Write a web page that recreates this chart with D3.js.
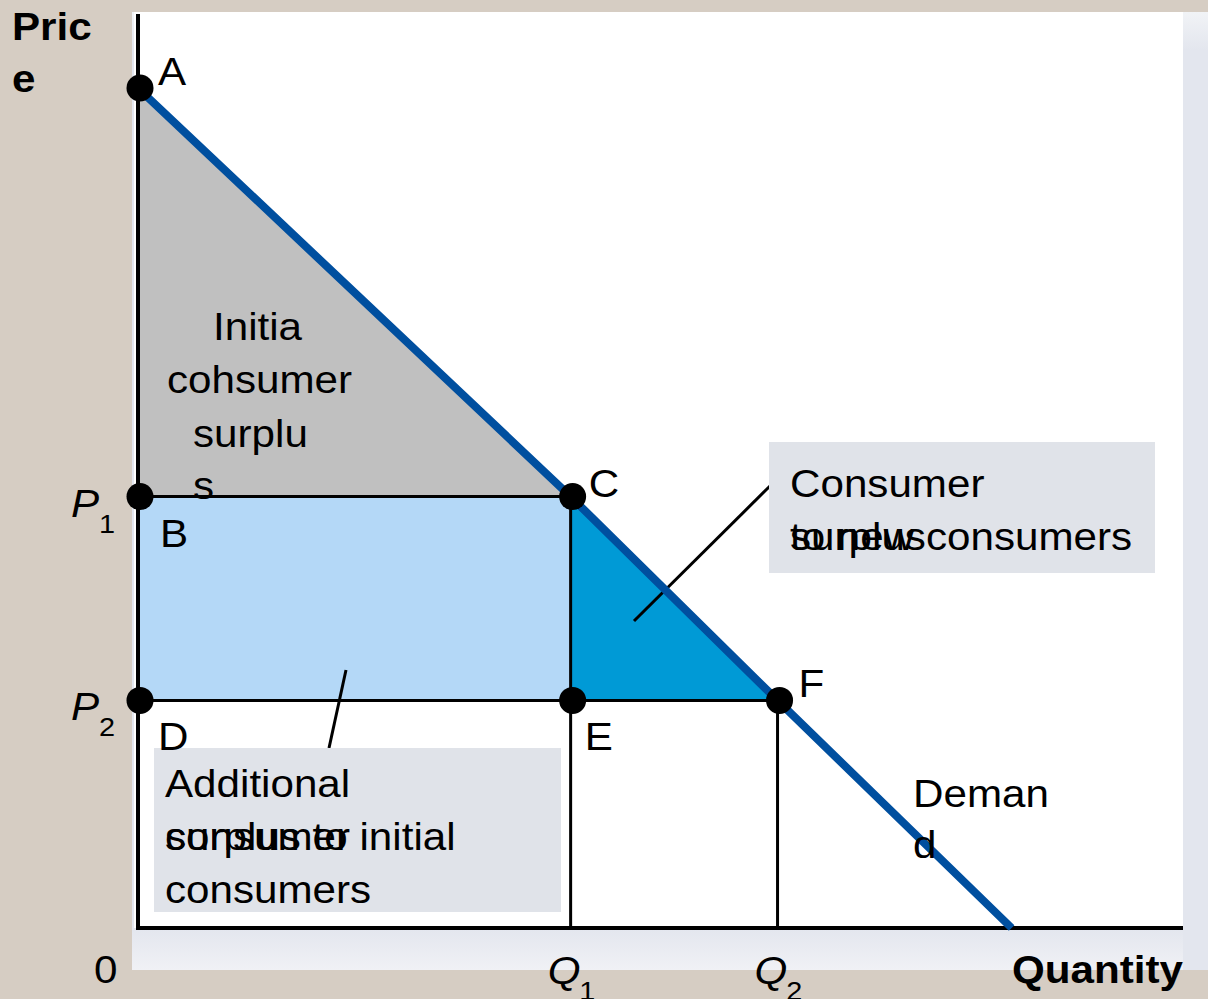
<!DOCTYPE html>
<html>
<head>
<meta charset="utf-8">
<script src="https://cdn.jsdelivr.net/npm/d3@7"></script>
<style>
  body { margin: 0; background: #d6cdc3; }
  svg { display: block; font-family: "Liberation Sans", Arial, sans-serif; }
</style>
</head>
<body>
<div id="chart"></div>
<script>
// values (quantity and price units, 0..10)
var demandQ = [0, 4.14, 6.12, 8.36];
var demandP = [9.19, 4.72, 2.49, 0];
var pointLabels = ["A", "B", "C", "D", "E", "F"];
var pointQ = [0, 0, 4.14, 0, 4.14, 6.12];
var pointP = [9.19, 4.72, 4.72, 2.49, 2.49, 2.49];
var priceTickNames = ["1", "2"];
var priceTickValues = [4.72, 2.49];
var qtyTickNames = ["1", "2"];
var qtyTickValues = [4.14, 6.12];

var width = 1208, height = 999;
var stretch = 1.11; // the slide text is a bit wider than plain Arial

var svg = d3.select("#chart")
    .append("svg")
    .attr("width", width)
    .attr("height", height);

var x = d3.scaleLinear().domain([0, 10]).range([138, 1183]);
var y = d3.scaleLinear().domain([0, 10]).range([928, 14]);

// text placed at (tx, ty) and stretched sideways
function place(sel, tx, ty) {
    return sel.attr("transform", "translate(" + tx + "," + ty + ") scale(" + stretch + ",1)");
}

// background panels
var defs = svg.append("defs");
var g1 = defs.append("linearGradient").attr("id", "bottomBand")
    .attr("x1", 0).attr("y1", 0).attr("x2", 0).attr("y2", 1);
g1.append("stop").attr("offset", "0%").attr("stop-color", "#e3e6ee");
g1.append("stop").attr("offset", "100%").attr("stop-color", "#f0f1f5");
var g2 = defs.append("linearGradient").attr("id", "sideBand")
    .attr("x1", 0).attr("y1", 0).attr("x2", 0).attr("y2", 1);
g2.append("stop").attr("offset", "0%").attr("stop-color", "#f1f3f6");
g2.append("stop").attr("offset", "4%").attr("stop-color", "#e3e6ee");
g2.append("stop").attr("offset", "100%").attr("stop-color", "#e3e6ee");

svg.append("rect").attr("x", 0).attr("y", 0).attr("width", width).attr("height", height)
    .style("fill", "#d6cdc3");
svg.append("rect").attr("x", 132).attr("y", 12).attr("width", width - 132).attr("height", 958)
    .style("fill", "url(#sideBand)");
svg.append("rect").attr("x", 132).attr("y", 928).attr("width", 1051).attr("height", 42)
    .style("fill", "url(#bottomBand)");
svg.append("rect").attr("x", 134).attr("y", 12).attr("width", 1049).attr("height", 916)
    .style("fill", "#fff");

// shaded areas
var pt = function(q, p) { return [x(q), y(p)]; };
svg.append("polygon")
    .attr("points", [pt(0, demandP[0]), pt(0, pointP[1]), pt(pointQ[2], pointP[2])].join(" "))
    .style("fill", "#c0c0c0");
svg.append("rect")
    .attr("x", x(0)).attr("y", y(pointP[1]))
    .attr("width", x(pointQ[2]) - x(0))
    .attr("height", y(pointP[3]) - y(pointP[1]))
    .style("fill", "#b4d8f7");
svg.append("polygon")
    .attr("points", [pt(pointQ[2], pointP[2]), pt(pointQ[4], pointP[4]), pt(pointQ[5], pointP[5])].join(" "))
    .style("fill", "#009ad6");

// guide lines
var guides = [
    [0, pointP[1], pointQ[2], pointP[2]],
    [0, pointP[3], pointQ[5], pointP[5]],
    [pointQ[4], pointP[2], pointQ[4], 0],
    [pointQ[5], pointP[5], pointQ[5], 0]
];
svg.selectAll(".guide")
    .data(guides)
    .enter().append("line")
    .attr("class", "guide")
    .attr("x1", function(d) { return x(d[0]); })
    .attr("y1", function(d) { return y(d[1]); })
    .attr("x2", function(d) { return x(d[2]); })
    .attr("y2", function(d) { return y(d[3]); })
    .style("stroke", "#000")
    .style("stroke-width", 3);

// axes
svg.append("line").attr("x1", x(0)).attr("y1", 14).attr("x2", x(0)).attr("y2", y(0) + 2)
    .style("stroke", "#000").style("stroke-width", 4);
svg.append("line").attr("x1", x(0) - 2).attr("y1", y(0)).attr("x2", 1183).attr("y2", y(0))
    .style("stroke", "#000").style("stroke-width", 4);

// leaders
svg.append("line").attr("x1", 770).attr("y1", 486).attr("x2", 634).attr("y2", 621)
    .style("stroke", "#000").style("stroke-width", 3);
svg.append("line").attr("x1", 346).attr("y1", 670).attr("x2", 329).attr("y2", 748)
    .style("stroke", "#000").style("stroke-width", 3);

// demand curve
var demand = demandQ.map(function(q, i) { return [q, demandP[i]]; });
svg.append("path")
    .datum(demand)
    .attr("d", d3.line().x(function(d) { return x(d[0]); }).y(function(d) { return y(d[1]); }))
    .style("fill", "none")
    .style("stroke", "#004f9f")
    .style("stroke-width", 8);

// label boxes
svg.append("rect").attr("x", 769).attr("y", 442).attr("width", 386).attr("height", 131)
    .style("fill", "#e0e3e9");
svg.append("rect").attr("x", 154).attr("y", 748).attr("width", 407).attr("height", 164)
    .style("fill", "#e0e3e9");

// points
var points = pointLabels.map(function(l, i) { return { label: l, q: pointQ[i], p: pointP[i] }; });
svg.selectAll(".dot")
    .data(points)
    .enter().append("circle")
    .attr("class", "dot")
    .attr("cx", function(d) { return x(d.q) + 2; })
    .attr("cy", function(d) { return y(d.p); })
    .attr("r", 13.5)
    .style("fill", "#000");

var labelOffset = { A: [20, -3], B: [22, 50], C: [18, 0], D: [20, 50], E: [14, 50], F: [21, -3] };
svg.selectAll(".plabel")
    .data(points)
    .enter().append("text")
    .attr("class", "plabel")
    .attr("transform", function(d) {
        return "translate(" + (x(d.q) + labelOffset[d.label][0]) + "," + (y(d.p) + labelOffset[d.label][1]) +
            ") scale(" + stretch + ",1)";
    })
    .style("font-size", "38px")
    .text(function(d) { return d.label; });

// tick labels P1 P2, Q1 Q2
priceTickValues.forEach(function(v, i) {
    var t = place(svg.append("text"), 71, y(v) + 20).style("font-size", "38px");
    t.append("tspan").style("font-style", "italic").text("P");
    t.append("tspan").attr("dx", 0).attr("dy", 16).style("font-size", "26px").text(priceTickNames[i]);
});
qtyTickValues.forEach(function(v, i) {
    var t = place(svg.append("text"), x(v) - 23, 984).style("font-size", "38px");
    t.append("tspan").style("font-style", "italic").text("Q");
    t.append("tspan").attr("dx", -1).attr("dy", 16).style("font-size", "26px").text(qtyTickNames[i]);
});

place(svg.append("text"), 94, 983).style("font-size", "38px").text("0");

// axis titles
place(svg.append("text"), 12, 40).style("font-size", "38px").style("font-weight", "bold").text("Pric");
place(svg.append("text"), 12, 92).style("font-size", "38px").style("font-weight", "bold").text("e");
place(svg.append("text"), 1183, 983).attr("text-anchor", "end")
    .style("font-size", "38px").style("font-weight", "bold").text("Quantity");

// area texts
var textLines = [
    ["Initia", 213, 340], ["cohsumer", 167, 393], ["surplu", 193, 447], ["s", 193, 499],
    ["Consumer", 790, 497], ["surplus", 790, 550], ["to new consumers", 790, 550],
    ["Additional", 165, 797], ["consumer", 165, 850], ["surplus to initial", 165, 850], ["consumers", 165, 903],
    ["Deman", 913, 807], ["d", 913, 858]
];
svg.selectAll(".area-text")
    .data(textLines)
    .enter().append("text")
    .attr("class", "area-text")
    .attr("transform", function(d) { return "translate(" + d[1] + "," + d[2] + ") scale(" + stretch + ",1)"; })
    .style("font-size", "38px")
    .text(function(d) { return d[0]; });
</script>
</body>
</html>
